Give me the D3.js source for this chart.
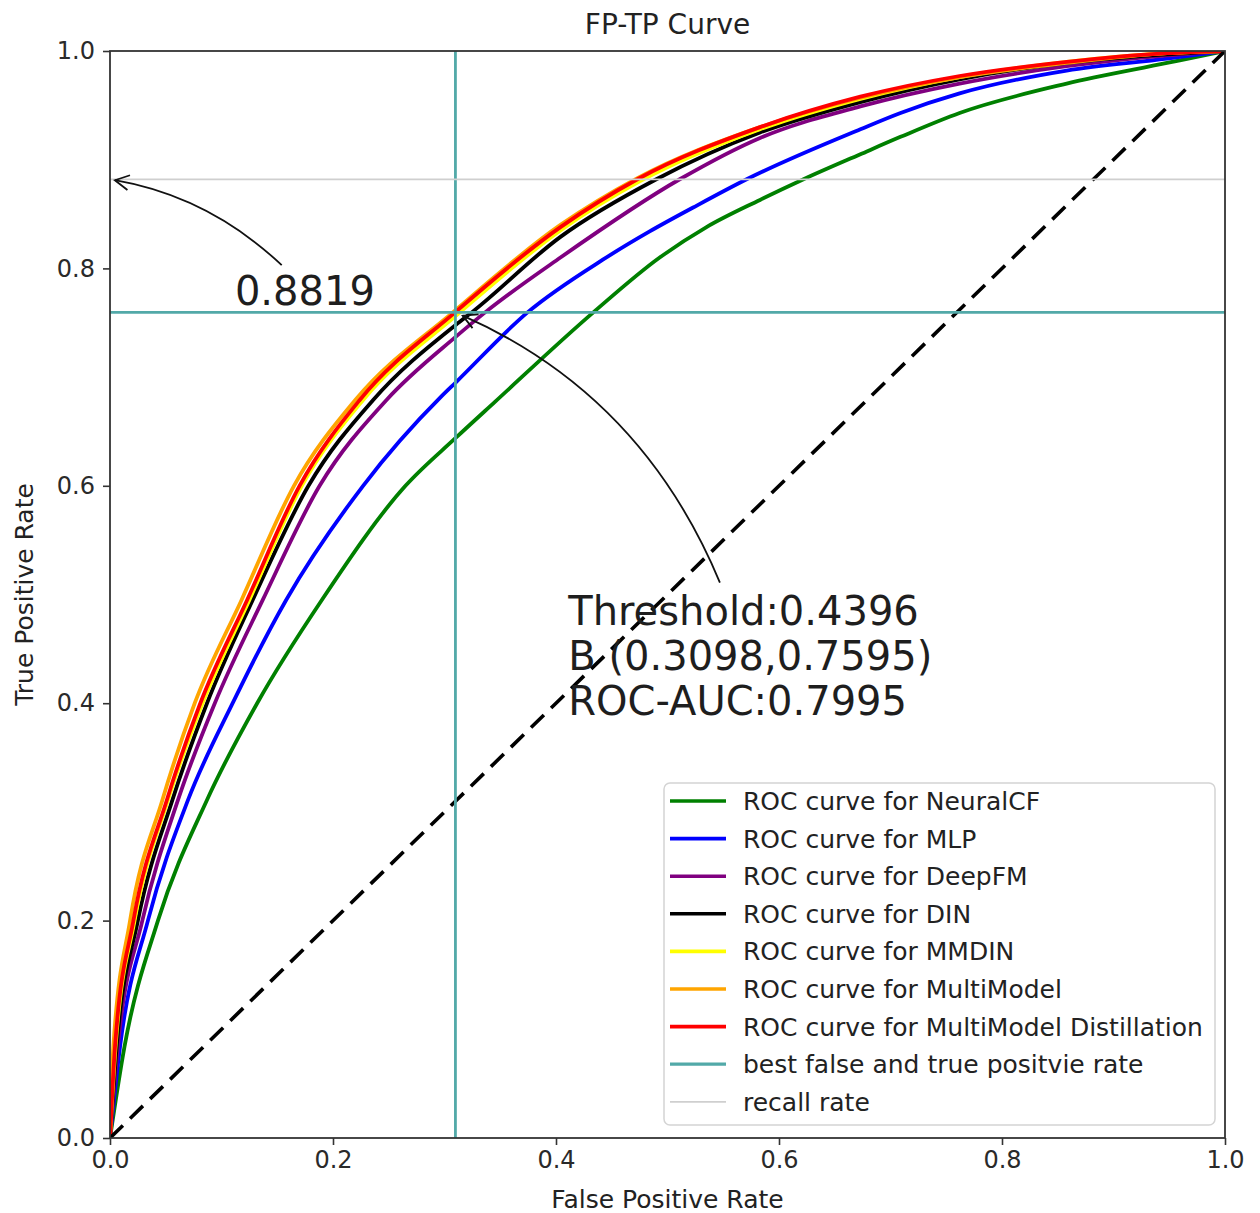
<!DOCTYPE html>
<html><head><meta charset="utf-8">
<script src="https://cdn.jsdelivr.net/npm/d3@7"></script>
<style>
body{margin:0;background:#fff}
svg{display:block}
text{font-family:"DejaVu Sans","Noto Sans",sans-serif}
</style>
</head><body>
<svg id="chart" width="1260" height="1213"></svg>
<script>
// ---------- data ----------
const seriesNames = [
  "ROC curve for NeuralCF",
  "ROC curve for MLP",
  "ROC curve for DeepFM",
  "ROC curve for DIN",
  "ROC curve for MMDIN",
  "ROC curve for MultiModel",
  "ROC curve for MultiModel Distillation"
];
const seriesColors = ["#008000", "#0000ff", "#800080", "#000000", "#ffff00", "#ffa500", "#ff0000"];

// [false positive rate, true positive rate]
const rocNeuralCF = [[0,0],[0.013,0.084],[0.043,0.2],[0.087,0.311],[0.132,0.4],[0.19,0.495],[0.265,0.6],[0.31,0.644],[0.345,0.677],[0.434,0.76],[0.493,0.81],[0.535,0.838],[0.583,0.863],[0.622,0.882],[0.673,0.905],[0.709,0.921],[0.762,0.943],[0.858,0.97],[0.948,0.989],[1,1]];
const rocMLP = [[0,0],[0.009,0.084],[0.034,0.2],[0.07,0.311],[0.11,0.4],[0.158,0.495],[0.227,0.6],[0.297,0.682],[0.31,0.695],[0.375,0.76],[0.442,0.808],[0.484,0.834],[0.523,0.856],[0.571,0.882],[0.673,0.928],[0.709,0.943],[0.762,0.961],[0.858,0.982],[0.948,0.993],[1,1]];
const rocDeepFM = [[0,0],[0.007,0.084],[0.029,0.2],[0.061,0.311],[0.094,0.4],[0.137,0.495],[0.188,0.6],[0.248,0.679],[0.31,0.737],[0.337,0.76],[0.404,0.81],[0.511,0.882],[0.583,0.92],[0.673,0.949],[0.762,0.97],[0.858,0.986],[0.948,0.996],[1,1]];
const rocDIN = [[0,0],[0.006,0.084],[0.025,0.2],[0.056,0.311],[0.087,0.4],[0.128,0.495],[0.178,0.6],[0.236,0.679],[0.31,0.748],[0.325,0.76],[0.404,0.829],[0.49,0.882],[0.583,0.925],[0.673,0.953],[0.762,0.974],[0.858,0.989],[0.948,0.997],[1,1]];
const rocMMDIN = [[0,0],[0.005,0.084],[0.022,0.2],[0.052,0.311],[0.083,0.4],[0.125,0.495],[0.172,0.6],[0.227,0.679],[0.312,0.758],[0.404,0.835],[0.475,0.88],[0.583,0.928],[0.673,0.956],[0.762,0.976],[0.858,0.99],[0.948,0.998],[1,1]];
const rocMultiModel = [[0,0],[0.003,0.084],[0.018,0.2],[0.047,0.311],[0.076,0.4],[0.118,0.495],[0.165,0.6],[0.22,0.679],[0.308,0.76],[0.404,0.84],[0.473,0.883],[0.583,0.93],[0.673,0.957],[0.762,0.976],[0.858,0.989],[0.948,0.998],[1,1]];
const rocDistillation = [[0,0],[0.0045,0.084],[0.021,0.2],[0.051,0.311],[0.081,0.4],[0.123,0.495],[0.17,0.6],[0.224,0.679],[0.31,0.76],[0.404,0.838],[0.473,0.882],[0.583,0.93],[0.673,0.958],[0.762,0.977],[0.858,0.99],[0.948,0.998],[1,1]];

const diagonal = [[0,0],[1,1]];
const bestPoint = [0.3098, 0.7595];
const recallRate = 0.8819;
const thresholdLines = ["Threshold:0.4396", "B (0.3098,0.7595)", "ROC-AUC:0.7995"];
const recallLabel = "0.8819";
const xTicks = [0, 0.2, 0.4, 0.6, 0.8, 1.0];
const yTicks = [0, 0.2, 0.4, 0.6, 0.8, 1.0];
const extraLegend = ["best false and true positvie rate", "recall rate"];

// ---------- layout ----------
const svg = d3.select("#chart");
const L = 110, R = 1225, T = 51, B = 1138;
const x = d3.scaleLinear().domain([0, 1]).range([L, R]);
const y = d3.scaleLinear().domain([0, 1]).range([B, T]);
const fmt = d3.format(".1f");
const teal = "#52a9a8";

const defs = svg.append("defs");
defs.append("clipPath").attr("id", "plotclip")
  .append("rect").attr("x", L).attr("y", T).attr("width", R - L).attr("height", B - T);
defs.append("marker")
  .attr("id", "arrowhead").attr("markerUnits", "userSpaceOnUse")
  .attr("viewBox", "-16 -9 18 18").attr("refX", 0).attr("refY", 0)
  .attr("markerWidth", 18).attr("markerHeight", 18).attr("orient", "auto")
  .append("path").attr("d", "M-14,-7.5L0,0L-14,7.5")
  .attr("fill", "none").attr("stroke", "#111").attr("stroke-width", 1.8);

const plot = svg.append("g").attr("clip-path", "url(#plotclip)");
const line = d3.line().x(d => x(d[0])).y(d => y(d[1])).curve(d3.curveMonotoneX);

const allSeries = [rocNeuralCF, rocMLP, rocDeepFM, rocDIN, rocMMDIN, rocMultiModel, rocDistillation];
allSeries.forEach((s, i) => {
  plot.append("path").datum(s).attr("d", line)
    .attr("fill", "none").attr("stroke", seriesColors[i])
    .attr("stroke-width", 3.8).attr("stroke-linejoin", "round");
});

// diagonal
plot.append("path").datum(diagonal).attr("d", d3.line().x(d => x(d[0])).y(d => y(d[1])))
  .attr("fill", "none").attr("stroke", "#000").attr("stroke-width", 3.6)
  .attr("stroke-dasharray", "18,10");

// best point cross lines
plot.append("line").attr("x1", x(bestPoint[0])).attr("x2", x(bestPoint[0]))
  .attr("y1", y(0)).attr("y2", y(1)).attr("stroke", teal).attr("stroke-width", 2.8);
plot.append("line").attr("x1", x(0)).attr("x2", x(1))
  .attr("y1", y(bestPoint[1])).attr("y2", y(bestPoint[1])).attr("stroke", teal).attr("stroke-width", 2.8);
// recall rate line
plot.append("line").attr("x1", x(0)).attr("x2", x(1))
  .attr("y1", y(recallRate)).attr("y2", y(recallRate)).attr("stroke", "#cfcfcf").attr("stroke-width", 1.8);

// frame
svg.append("rect").attr("x", L).attr("y", T).attr("width", R - L).attr("height", B - T)
  .attr("fill", "none").attr("stroke", "#333").attr("stroke-width", 1.8);

// axes
const xAxis = svg.append("g").attr("transform", `translate(0,${B})`)
  .call(d3.axisBottom(x).tickValues(xTicks).tickFormat(fmt).tickSize(7).tickPadding(6));
const yAxis = svg.append("g").attr("transform", `translate(${L},0)`)
  .call(d3.axisLeft(y).tickValues(yTicks).tickFormat(fmt).tickSize(7).tickPadding(8));
[xAxis, yAxis].forEach(a => {
  a.select(".domain").remove();
  a.selectAll(".tick line").attr("stroke", "#333").attr("stroke-width", 1.6);
  a.selectAll(".tick text").attr("fill", "#2a2a2a").style("font-size", "24px")
    .style("font-family", "'DejaVu Sans', sans-serif");
});

// titles
svg.append("text").attr("x", (L + R) / 2).attr("y", 34).attr("text-anchor", "middle")
  .style("font-size", "28px").attr("fill", "#222").text("FP-TP Curve");
svg.append("text").attr("x", (L + R) / 2).attr("y", 1208).attr("text-anchor", "middle")
  .style("font-size", "25px").attr("fill", "#222").text("False Positive Rate");
svg.append("text").attr("transform", `translate(33,${(T + B) / 2}) rotate(-90)`)
  .attr("text-anchor", "middle").style("font-size", "25px").attr("fill", "#222").text("True Positive Rate");

// annotations (arc-style arrows)
function arcArrow(from, to, rad, shrink) {
  const sx = x(from[0]), sy = y(from[1]);
  let ex = x(to[0]), ey = y(to[1]);
  const mx = (sx + ex) / 2, my = (sy + ey) / 2;
  const dx = ex - sx, dy = ey - sy;
  const cx = mx - rad * dy, cy = my + rad * dx;
  const tx = ex - cx, ty = ey - cy, tl = Math.hypot(tx, ty);
  ex -= tx / tl * shrink; ey -= ty / tl * shrink;
  svg.append("path").attr("d", `M${sx},${sy}Q${cx},${cy} ${ex},${ey}`)
    .attr("fill", "none").attr("stroke", "#111").attr("stroke-width", 1.8)
    .attr("marker-end", "url(#arrowhead)");
}
const recallTextPos = [0.112, 0.766];
const recallArrowStart = [0.154, 0.803];
const thresholdTextPos = [0.411, 0.472];
const thresholdArrowStart = [0.547, 0.511];
arcArrow(recallArrowStart, [0, recallRate], 0.15, 5);
arcArrow(thresholdArrowStart, bestPoint, 0.2, 8);

svg.append("text").attr("x", x(recallTextPos[0])).attr("y", y(recallTextPos[1]))
  .style("font-size", "40px").attr("fill", "#1e1e1e").text(recallLabel);
const tt = svg.append("text").attr("x", x(thresholdTextPos[0])).attr("y", y(thresholdTextPos[1]))
  .style("font-size", "40px").attr("fill", "#1e1e1e");
thresholdLines.forEach((t, i) => {
  tt.append("tspan").attr("x", x(thresholdTextPos[0])).attr("dy", i === 0 ? 0 : 45).text(t);
});

// legend
const legendItems = seriesNames.map((n, i) => ({name: n, color: seriesColors[i], w: 3.6}))
  .concat([{name: extraLegend[0], color: teal, w: 3.2}, {name: extraLegend[1], color: "#cfcfcf", w: 1.8}]);
const lg = svg.append("g").attr("transform", "translate(664,783)");
lg.append("rect").attr("x", 0).attr("y", 0).attr("width", 551).attr("height", 342)
  .attr("rx", 6).attr("fill", "#fff").attr("fill-opacity", 0.85)
  .attr("stroke", "#d4d4d4").attr("stroke-width", 1.5);
legendItems.forEach((d, i) => {
  const yy = 18 + i * 37.6;
  lg.append("line").attr("x1", 6).attr("x2", 62).attr("y1", yy).attr("y2", yy)
    .attr("stroke", d.color).attr("stroke-width", d.w);
  lg.append("text").attr("x", 79).attr("y", yy).attr("dy", "0.36em")
    .style("font-size", "25px").attr("fill", "#222").text(d.name);
});
</script>
</body></html>
